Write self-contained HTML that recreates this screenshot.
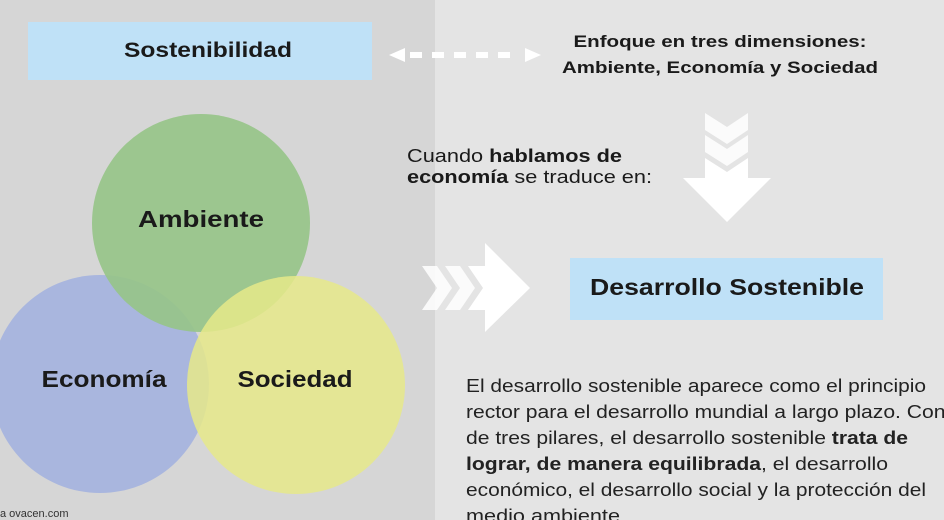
<!DOCTYPE html>
<html><head><meta charset="utf-8"><style>
html,body{margin:0;padding:0;width:944px;height:520px;overflow:hidden;background:#e4e4e4}
svg{display:block}
text{font-family:"Liberation Sans",sans-serif}
</style></head><body>
<svg width="944" height="520" viewBox="0 0 944 520" xmlns="http://www.w3.org/2000/svg">
<rect x="0" y="0" width="944" height="520" fill="#e4e4e4"/>
<rect x="0" y="0" width="435" height="520" fill="#d6d6d6"/>
<!-- Sostenibilidad box -->
<rect x="28" y="22" width="344" height="58" fill="#bfe1f7"/>
<text x="208" y="57" font-size="21" font-weight="bold" text-anchor="middle" fill="#1a1a1a" textLength="168" lengthAdjust="spacingAndGlyphs">Sostenibilidad</text>
<!-- dashed double arrow -->
<polygon points="389,55 405,48 405,62" fill="#fff"/>
<polygon points="541,55 525,48 525,62" fill="#fff"/>
<g fill="#fff">
<rect x="410" y="52" width="12" height="6"/><rect x="432" y="52" width="12" height="6"/><rect x="454" y="52" width="12" height="6"/><rect x="476" y="52" width="12" height="6"/><rect x="498" y="52" width="12" height="6"/>
</g>
<text x="720" y="47" font-size="17" font-weight="bold" text-anchor="middle" fill="#1a1a1a" textLength="293" lengthAdjust="spacingAndGlyphs">Enfoque en tres dimensiones:</text>
<text x="720" y="73" font-size="17" font-weight="bold" text-anchor="middle" fill="#1a1a1a" textLength="316" lengthAdjust="spacingAndGlyphs">Ambiente, Economía y Sociedad</text>
<!-- down arrow -->
<g fill="#fff">
<polygon points="705,113 727,127 748,113 748,130 727,144 705,130" opacity="0.85"/>
<polygon points="705,135 727,149 748,135 748,152 727,166 705,152" opacity="0.85"/>
<polygon points="705,158 727,172 748,158 748,178 771,178 727,222 683,178 705,178"/>
</g>
<text x="407" y="162" font-size="18" fill="#1a1a1a" textLength="215" lengthAdjust="spacingAndGlyphs">Cuando <tspan font-weight="bold">hablamos de</tspan></text>
<text x="407" y="183" font-size="18" fill="#1a1a1a" textLength="245" lengthAdjust="spacingAndGlyphs"><tspan font-weight="bold">economía</tspan> se traduce en:</text>
<!-- right arrow -->
<g fill="#fff">
<polygon points="422,266 437,266 452,288 437,310 422,310 437,288" opacity="0.85"/>
<polygon points="445,266 460,266 475,288 460,310 445,310 460,288" opacity="0.85"/>
<polygon points="468,266 485,266 485,243 530,288 485,332 485,310 468,310 483,288"/>
</g>
<!-- Desarrollo box -->
<rect x="570" y="258" width="313" height="62" fill="#bfe1f7"/>
<text x="727" y="295" font-size="23" font-weight="bold" text-anchor="middle" fill="#1a1a1a" textLength="274" lengthAdjust="spacingAndGlyphs">Desarrollo Sostenible</text>
<!-- circles -->
<circle cx="100" cy="384" r="109" fill="#a9b6de"/>
<circle cx="201" cy="223" r="109" fill="#96c487" fill-opacity="0.9"/>
<circle cx="296" cy="385" r="109" fill="#e6e98a" fill-opacity="0.85"/>
<text x="201" y="227" font-size="23" font-weight="bold" text-anchor="middle" fill="#1a1a1a" textLength="126" lengthAdjust="spacingAndGlyphs">Ambiente</text>
<text x="104" y="387" font-size="23" font-weight="bold" text-anchor="middle" fill="#1a1a1a" textLength="125" lengthAdjust="spacingAndGlyphs">Economía</text>
<text x="295" y="387" font-size="23" font-weight="bold" text-anchor="middle" fill="#1a1a1a" textLength="115" lengthAdjust="spacingAndGlyphs">Sociedad</text>
<text x="0" y="517" font-size="11" fill="#333">a ovacen.com</text>
<!-- paragraph -->
<g font-size="18" fill="#222">
<text x="466" y="392" textLength="460" lengthAdjust="spacingAndGlyphs">El desarrollo sostenible aparece como el principio</text>
<text x="466" y="418" textLength="490" lengthAdjust="spacingAndGlyphs">rector para el desarrollo mundial a largo plazo. Cons</text>
<text x="466" y="444" textLength="442" lengthAdjust="spacingAndGlyphs">de tres pilares, el desarrollo sostenible <tspan font-weight="bold">trata de</tspan></text>
<text x="466" y="470" textLength="422" lengthAdjust="spacingAndGlyphs"><tspan font-weight="bold">lograr, de manera equilibrada</tspan>, el desarrollo</text>
<text x="466" y="496" textLength="460" lengthAdjust="spacingAndGlyphs">económico, el desarrollo social y la protección del</text>
<text x="466" y="522" textLength="160" lengthAdjust="spacingAndGlyphs">medio ambiente.</text>
</g>
</svg>
</body></html>
